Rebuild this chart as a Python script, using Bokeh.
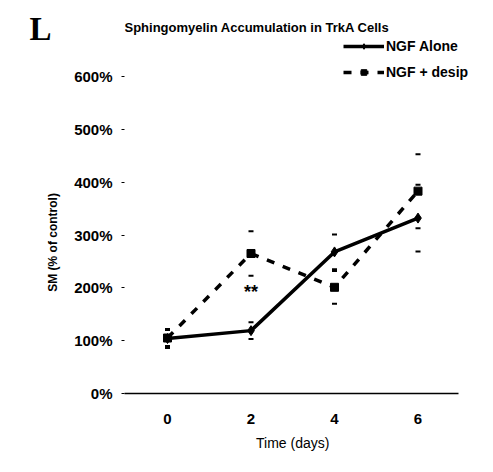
from bokeh.plotting import figure
from bokeh.models import (ColumnDataSource, Whisker, TeeHead, FixedTicker,
                          Label, Legend, LegendItem, Range1d, LinearAxis)
from bokeh.embed import file_html
from bokeh.resources import INLINE

# ---- data ----
days = [0, 2, 4, 6]
ngf_alone = [104, 119, 268, 332]
ngf_alone_err = [18, 16, 33, 63]
ngf_desip = [105, 265, 201, 383]
ngf_desip_err = [15, 42, 31, 70]
series_names = ["NGF Alone", "NGF + desip"]
y_ticks = [0, 100, 200, 300, 400, 500, 600]
y_tick_labels = ["0%", "100%", "200%", "300%", "400%", "500%", "600%"]
x_ticks = [0, 2, 4, 6]
x_tick_labels = ["0", "2", "4", "6"]
title_text = "Sphingomyelin Accumulation in TrkA Cells"
panel_letter = "L"
x_label = "Time (days)"
y_label = "SM (% of control)"
signif_text = "**"
signif_day = 2
signif_value = 193

# ---- layout ----
W, H = 493, 472
FL, FR, FT, FB = 124, 493, 0, 393          # frame edges in pixels
PX_PER_DAY = 41.75
PX_PER_PCT = 317 / 600
X0 = (FL - 167) / PX_PER_DAY
X1 = X0 + (FR - FL) / PX_PER_DAY
X_AXIS_END = X0 + (458 - FL) / PX_PER_DAY
Y0 = 0
Y1 = (FB - FT) / PX_PER_PCT

def px_to_data(px, py):
    x = X0 + (px - FL) / PX_PER_DAY
    y = Y0 + (FB - py) / PX_PER_PCT
    return x, y

FONT = "Liberation Sans"

p = figure(width=W, height=H, x_range=Range1d(X0, X1), y_range=Range1d(Y0, Y1),
           output_backend="svg", toolbar_location=None,
           min_border_left=FL, min_border_right=W - FR,
           min_border_top=FT, min_border_bottom=H - FB)
p.outline_line_color = None
p.grid.visible = False
p.background_fill_color = "white"
p.border_fill_color = "white"

def bare_axis(ax):
    ax.axis_line_color = None
    ax.major_tick_line_color = None
    ax.minor_tick_line_color = None
    ax.major_tick_in = 0
    ax.major_tick_out = 0

# y axis
yax = p.yaxis[0]
yax.ticker = FixedTicker(ticks=y_ticks)
yax.major_label_overrides = {t: l for t, l in zip(y_ticks, y_tick_labels)}
yax.axis_line_color = None
yax.minor_tick_line_color = None
yax.major_tick_in = 0
yax.major_tick_out = 3
yax.major_tick_line_width = 1
yax.major_label_standoff = 9
yax.major_label_text_font = FONT
yax.major_label_text_font_size = "15px"
yax.major_label_text_font_style = "bold"
yax.major_label_text_color = "black"

# y axis title, placed as a label of an outer axis (to sit off-centre like the original)
_, ylab_pos = px_to_data(0, 242)
ylab_pos = round(ylab_pos)
ylab_ax = LinearAxis(ticker=FixedTicker(ticks=[ylab_pos]),
                     major_label_overrides={ylab_pos: y_label},
                     major_label_orientation="vertical",
                     major_label_standoff=11,
                     major_label_text_font=FONT,
                     major_label_text_font_size="12px",
                     major_label_text_font_style="bold",
                     major_label_text_color="black")
bare_axis(ylab_ax)
p.add_layout(ylab_ax, "left")

# panel letter as an outer left axis label
_, let_pos = px_to_data(0, 29)
let_pos = round(let_pos)
lax = LinearAxis(ticker=FixedTicker(ticks=[let_pos]),
                 major_label_overrides={let_pos: panel_letter},
                 major_label_standoff=-8,
                 major_label_text_font="Liberation Serif",
                 major_label_text_font_size="33px",
                 major_label_text_font_style="bold",
                 major_label_text_color="black")
bare_axis(lax)
p.add_layout(lax, "left")

# x axis
xax = p.xaxis[0]
xax.ticker = FixedTicker(ticks=x_ticks)
xax.major_label_overrides = {t: l for t, l in zip(x_ticks, x_tick_labels)}
xax.bounds = (X0, X_AXIS_END)
xax.axis_line_color = "black"
xax.axis_line_width = 1.5
xax.minor_tick_line_color = None
xax.major_tick_line_color = None
xax.major_tick_in = 0
xax.major_tick_out = 0
xax.major_label_standoff = 20
xax.major_label_text_font = FONT
xax.major_label_text_font_size = "15px"
xax.major_label_text_font_style = "bold"
xax.major_label_text_color = "black"

# x axis title under the plotted span
xlab_pos, _ = px_to_data(292, 0)
xlab_pos = round(xlab_pos)
xlab_ax = LinearAxis(ticker=FixedTicker(ticks=[xlab_pos]),
                     major_label_overrides={xlab_pos: x_label},
                     major_label_standoff=8,
                     major_label_text_font=FONT,
                     major_label_text_font_size="14px",
                     major_label_text_color="black")
bare_axis(xlab_ax)
p.add_layout(xlab_ax, "below")

# sources
src_a = ColumnDataSource(dict(x=days, y=ngf_alone,
                              lo=[v - e for v, e in zip(ngf_alone, ngf_alone_err)],
                              hi=[v + e for v, e in zip(ngf_alone, ngf_alone_err)]))
src_d = ColumnDataSource(dict(x=days, y=ngf_desip,
                              lo=[v - e for v, e in zip(ngf_desip, ngf_desip_err)],
                              hi=[v + e for v, e in zip(ngf_desip, ngf_desip_err)]))

for src in (src_a, src_d):
    w = Whisker(source=src, base="x", lower="lo", upper="hi",
                line_alpha=0,
                lower_head=TeeHead(size=5, line_width=2, line_color="black"),
                upper_head=TeeHead(size=5, line_width=2, line_color="black"))
    p.add_layout(w)

ld = p.line("x", "y", source=src_d, line_color="black", line_width=3.5,
            line_dash="8 9")
sd = p.scatter("x", "y", source=src_d, marker="square", size=8,
               fill_color="black", line_color="black")
la = p.line("x", "y", source=src_a, line_color="black", line_width=3.5)
sa = p.scatter("x", "y", source=src_a, marker="diamond", size=10,
               fill_color="black", line_color="black")

legend = Legend(items=[LegendItem(label=series_names[0], renderers=[la, sa]),
                       LegendItem(label=series_names[1], renderers=[ld, sd])],
                location=(219, 313), orientation="vertical",
                glyph_width=41, glyph_height=14, label_height=14,
                label_standoff=2, spacing=10, padding=0, margin=0,
                border_line_color=None, background_fill_alpha=0,
                label_text_font=FONT, label_text_font_size="14px",
                label_text_font_style="bold",
                label_text_color="black")
p.add_layout(legend)

# title
tx, ty = px_to_data(124, 27)
p.add_layout(Label(x=tx, y=ty, text=title_text, text_align="left",
                   text_baseline="middle", text_font=FONT,
                   text_font_size="13px", text_font_style="bold",
                   text_color="black"))
# significance mark
p.add_layout(Label(x=signif_day, y=signif_value, text=signif_text,
                   text_align="center", text_baseline="middle",
                   text_font=FONT, text_font_size="18px",
                   text_font_style="bold", text_color="black"))

open("out.html", "w").write(file_html(p, INLINE))
